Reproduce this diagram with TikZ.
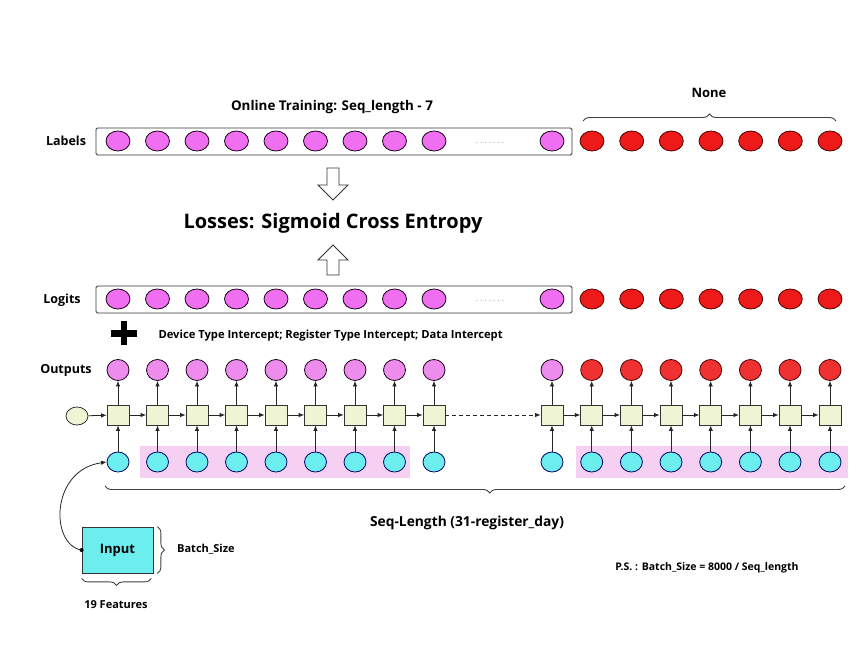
\documentclass[tikz,border=0pt]{standalone}
\usepackage{fontspec}
\setmainfont{Open Sans}
\usetikzlibrary{arrows.meta,decorations.pathreplacing,calc,shapes.geometric}
\definecolor{pk}{HTML}{F06EF0}
\definecolor{pkl}{HTML}{EE8CEE}
\definecolor{rd}{HTML}{EE1A1A}
\definecolor{cy}{HTML}{6CEEEE}
\definecolor{cellc}{HTML}{EEF4D4}
\definecolor{hl}{HTML}{F6D0F2}
\begin{document}
\begin{tikzpicture}[x=1pt,y=-1pt,
  pkc/.style={ellipse,draw=black!80!violet,line width=0.8pt,fill=pk,minimum width=24pt,minimum height=20pt,inner sep=0pt},
  pko/.style={ellipse,draw=black!80!violet,line width=0.8pt,fill=pkl,minimum width=22pt,minimum height=21pt,inner sep=0pt},
  rdc/.style={ellipse,draw=black!70!red,line width=0.8pt,fill=rd,minimum width=24pt,minimum height=20pt,inner sep=0pt},
  rdo/.style={ellipse,draw=black!70!red,line width=0.8pt,fill=rd!90!white,minimum width=22pt,minimum height=21pt,inner sep=0pt},
  cyc/.style={ellipse,draw=blue!40!black,line width=0.8pt,fill=cy,minimum width=22pt,minimum height=20pt,inner sep=0pt},
  cellbox/.style={rectangle,draw=black!80,line width=0.8pt,fill=cellc,minimum width=22pt,minimum height=20pt,inner sep=0pt},
  arr/.style={-{Latex[length=5.5pt,width=4.5pt]},line width=0.8pt,black!85},
  rowlab/.style={font=\bfseries\fontsize{12.5}{14}\selectfont},
  brc/.style={decorate,decoration={brace,amplitude=7pt},line width=0.9pt,black!75},
  hollow/.style={draw=black!80,line width=0.9pt,fill=white},
  small/.style={font=\bfseries\fontsize{11}{13}\selectfont}
]
\useasboundingbox (0,0) rectangle (868,670);

% highlight bands
\fill[hl] (140,446) rectangle (410,478);
\fill[hl] (576,446) rectangle (848,478);

% top titles
\node[font=\bfseries\fontsize{13.4}{15}\selectfont] (ttl) at (332,107) {Online Training: Seq\_length - 7};
\node[font=\bfseries\fontsize{13}{15}\selectfont] (none) at (709,93) {None};
\coordinate (nb1) at (583,121);
\coordinate (nb2) at (836,121);
\draw[brc] (nb1) -- (nb2);

% row labels
\node[rowlab] (labL) at (66,141) {Labels};
\node[rowlab] (logL) at (62,300) {Logits};
\node[rowlab] (outL) at (66,370) {Outputs};

% Labels box
\node[draw=black!80,line width=0.9pt,rounded corners=1.5pt,minimum width=476pt,minimum height=27pt,inner sep=0pt] (labbox) at (334,141.5) {};
\node[draw=black!80,line width=0.9pt,rounded corners=1.5pt,minimum width=476pt,minimum height=27pt,inner sep=0pt] (logbox) at (334,299.5) {};

% Labels circles
\foreach \x [count=\i] in {118,157.5,197,236.5,276,315.5,355,394.5,434,552}
  \node[pkc] (lb\i) at (\x,141) {};
\foreach \x [count=\i] in {592,631.7,671.3,711,750.7,790.3,830}
  \node[rdc] (lr\i) at (\x,141) {};
\node[text=black!30,font=\fontsize{10}{10}\selectfont] (ldots) at (490,143) {.\,.\,.\,.\,.\,.\,.};

% Logits circles
\foreach \x [count=\i] in {118,157.5,197,236.5,276,315.5,355,394.5,434,552}
  \node[pkc] (gb\i) at (\x,299) {};
\foreach \x [count=\i] in {592,631.7,671.3,711,750.7,790.3,830}
  \node[rdc] (gr\i) at (\x,299) {};
\node[text=black!30,font=\fontsize{10}{10}\selectfont] (gdots) at (490,301) {.\,.\,.\,.\,.\,.\,.};

% losses
\node[font=\fontsize{20}{24}\selectfont\bfseries] (loss) at (333,223) {Losses: Sigmoid Cross Entropy};
\draw[hollow] (327,168) -- (339,168) -- (339,185) -- (348,185) -- (333,200) -- (318,185) -- (327,185) -- cycle;
\draw[hollow] (327,275) -- (339,275) -- (339,260) -- (348,260) -- (333,245) -- (318,260) -- (327,260) -- cycle;

% plus
\fill[black] (111,330) rectangle (137,336.5);
\fill[black] (120.8,321) rectangle (127.2,345);
\node[anchor=west,font=\bfseries\fontsize{11.2}{12}\selectfont] (intc) at (155,336) {Device Type Intercept; Register Type Intercept; Data Intercept};

% RNN cells
\node[ellipse,draw=black!80,line width=0.8pt,fill=cellc,minimum width=22pt,minimum height=18pt,inner sep=0pt] (h0) at (77,416) {};
\foreach \x [count=\i] in {118,157.5,197,236.5,276,315.5,355,394.5,434,552,591.7,631.4,671,710.7,750.4,790,830}{
  \node[cellbox] (c\i) at (\x,415) {};
  \node[cyc] (in\i) at (\x,462) {};
  \draw[arr] (in\i) -- (c\i);
}
\foreach \x [count=\i] in {118,157.5,197,236.5,276,315.5,355,394.5,434,552}{
  \node[pko] (o\i) at (\x,370) {};
  \draw[arr] (c\i) -- (o\i);
}
\foreach \x [count=\j from 11] in {591.7,631.4,671,710.7,750.4,790,830}{
  \node[rdo] (o\j) at (\x,370) {};
  \draw[arr] (c\j) -- (o\j);
}
\draw[arr] (h0) -- (c1);
\foreach \i [evaluate=\i as \n using int(\i+1)] in {1,...,8,10,11,...,16}
  \draw[arr] (c\i) -- (c\n);
\draw[arr,dash pattern=on 4pt off 3pt] (c9) -- (c10);

% bottom brace
\coordinate (sb1) at (845,486);
\coordinate (sb2) at (105,486);
\draw[brc,decoration={brace,amplitude=7pt,aspect=0.48}] (sb1) -- (sb2);
\node[font=\bfseries\fontsize{13.8}{16}\selectfont] (seq) at (467,523) {Seq-Length (31-register\_day)};

% input box
\node[draw=black!80,line width=0.8pt,fill=cy,minimum width=71pt,minimum height=46pt,inner sep=0pt,font=\bfseries\fontsize{13}{15}\selectfont] (inp) at (117.5,550) {Input};
\draw[brc] ($(inp.north east)+(4,0)$) -- ($(inp.south east)+(4,0)$) coordinate[pos=0.5] (bsm);
\node[anchor=west,small,inner sep=1pt] (bs) at (176,549) {Batch\_Size};
\draw[brc] ($(inp.south east)+(-2,5)$) -- ($(inp.south west)+(0,5)$);
\node[small] (feat) at (116,605) {19 Features};
\fill[black] (inp.west) circle (2pt);
\draw[arr] (inp.west) .. controls (50,545) and (50,470) .. (in1.west);

% P.S.
\node[font=\bfseries\fontsize{10.5}{12}\selectfont] (ps) at (707,568) {P.S. : Batch\_Size = 8000 / Seq\_length};
\end{tikzpicture}
\end{document}
